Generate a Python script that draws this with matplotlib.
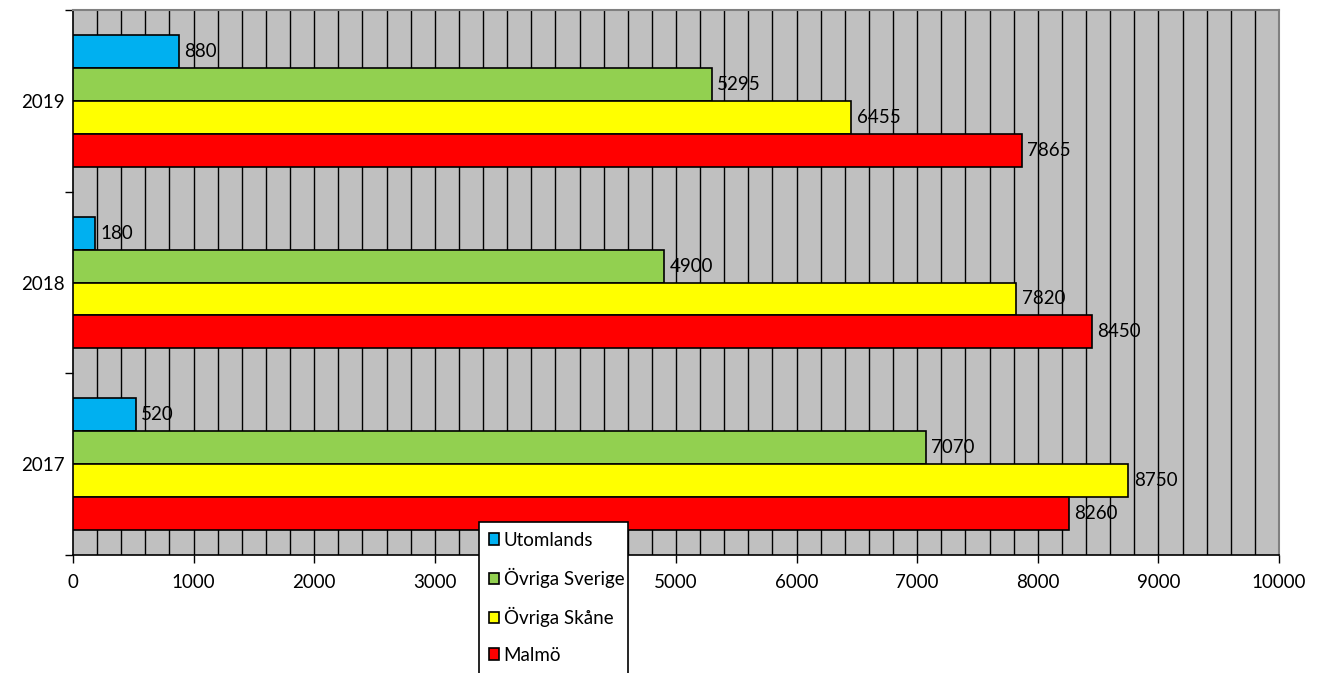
import numpy as np
import matplotlib.pyplot as plt
from matplotlib.patches import Patch, Rectangle

plt.rcParams['font.family'] = ['Lato', 'DejaVu Sans']

years = ['2017', '2018', '2019']
series = ['Utomlands', 'Övriga Sverige', 'Övriga Skåne', 'Malmö']
utomlands = [520, 180, 880]
ovriga_sverige = [7070, 4900, 5295]
ovriga_skane = [8750, 7820, 6455]
malmo = [8260, 8450, 7865]
colors = ['#00B0F0', '#92D050', '#FFFF00', '#FF0000']

W, H = 1322, 673
fig = plt.figure(figsize=(W/100, H/100), dpi=100)
ax = fig.add_axes([73/W, 1 - 555/H, (1279 - 73)/W, (555 - 10)/H])
ax.set_facecolor('#C0C0C0')

y = np.arange(len(years))
h = 0.181
offsets = [1.5, 0.5, -0.5, -1.5]  # top to bottom within a group
values = [utomlands, ovriga_sverige, ovriga_skane, malmo]

for vals, off, col in zip(values, offsets, colors):
    bars = ax.barh(y + off*h, vals, height=h, color=col, edgecolor='black',
                   linewidth=1.2, zorder=3)
    for b, v in zip(bars, vals):
        ax.text(v + 45, b.get_y() + b.get_height()/2, str(v), va='center',
                ha='left', fontsize=13.5, zorder=4)

ax.set_xlim(0, 10000)
ax.set_ylim(-0.5, 2.5)
for gx in np.arange(200, 10000, 200):
    ax.axvline(gx, color='black', linewidth=1.0, zorder=1)

ax.set_xticks(np.arange(0, 10001, 1000))
ax.set_xticklabels([str(v) for v in range(0, 10001, 1000)], fontsize=13.5)
ax.set_yticks(y)
ax.set_yticklabels(years, fontsize=13.5)
ax.set_yticks([-0.5, 0.5, 1.5, 2.5], minor=True)
ax.tick_params(axis='y', which='major', length=0, pad=6)
ax.tick_params(axis='y', which='minor', length=6, width=1, direction='out')
ax.tick_params(axis='x', which='major', length=6, width=1, direction='out', pad=8)

for s in ['left', 'bottom']:
    ax.spines[s].set_color('black')
    ax.spines[s].set_linewidth(1.2)
for s in ['top', 'right']:
    ax.spines[s].set_color('#808080')
    ax.spines[s].set_linewidth(1.5)

# legend box runs off the bottom edge, as in the original
box = Rectangle((479/W, -0.05), (628 - 479)/W, 0.05 + 1 - 522/H,
                transform=fig.transFigure, facecolor='white',
                edgecolor='black', linewidth=1.2, zorder=9)
fig.add_artist(box)

handles = [Patch(facecolor=c, edgecolor='black', linewidth=1.2) for c in colors]
leg = fig.legend(handles, series, loc='upper left',
                 bbox_to_anchor=(481/W, 1 - 524/H), fontsize=13.5,
                 frameon=False,
                 handlelength=0.55, handleheight=0.55, handletextpad=0.25,
                 labelspacing=1.03, borderpad=0.4, borderaxespad=0)
leg.set_zorder(10)

fig.savefig('out.png', dpi=100)
